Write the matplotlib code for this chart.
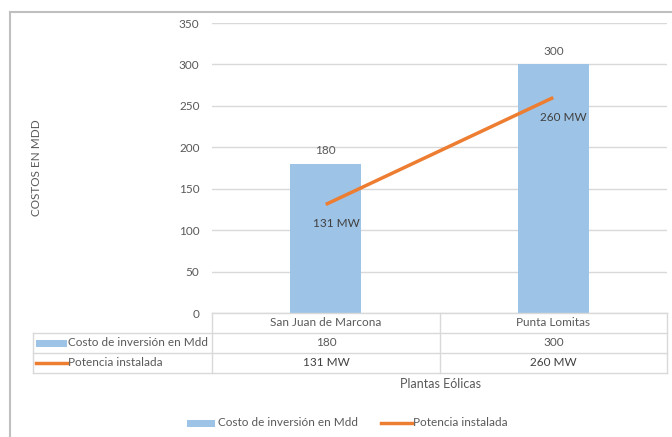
import matplotlib
matplotlib.use("Agg")
import matplotlib.pyplot as plt
from matplotlib.lines import Line2D
from matplotlib.patches import Rectangle

plantas = ["San Juan de Marcona", "Punta Lomitas"]
costo_mdd = [180, 300]
potencia_mw = [131, 260]
serie_costo = "Costo de inversión en Mdd"
serie_potencia = "Potencia instalada"
eje_y = "COSTOS EN MDD"
eje_x = "Plantas Eólicas"
y_ticks = [0, 50, 100, 150, 200, 250, 300, 350]

W, H = 672, 437
plt.rcParams['font.family'] = ['Lato', 'DejaVu Sans']
TXT = "#595959"
GRID = "#d9d9d9"
BLUE = "#9dc3e6"
ORANGE = "#ed7d31"

fig = plt.figure(figsize=(W / 100, H / 100), dpi=100)


def fx(x):
    return x / W


def fy(y):
    return 1 - y / H


# plot area in pixel terms
left, right, top, bottom = 212, 667, 23, 313
ax = fig.add_axes([fx(left), fy(bottom), (right - left) / W, (bottom - top) / H])
x = list(range(len(plantas)))
ax.bar(x, costo_mdd, width=0.31, color=BLUE, zorder=2)
ax.plot(x, potencia_mw, color=ORANGE, lw=2.5, zorder=3, solid_capstyle="butt")
ax.set_xlim(-0.5, len(plantas) - 0.5)
ax.set_ylim(0, 350)
ax.set_yticks(y_ticks)
ax.set_xticks([])
ax.grid(axis="y", color=GRID, lw=1, zorder=0)
for s in ax.spines.values():
    s.set_visible(False)
ax.tick_params(axis="y", length=0, pad=9, labelsize=8.5, labelcolor=TXT)

for xi, v in zip(x, costo_mdd):
    ax.annotate(f"{v}", (xi, v), xytext=(0, 9.5), textcoords="offset points",
                ha="center", va="center", fontsize=8.5, color=TXT)
for xi, v in zip(x, potencia_mw):
    ax.annotate(f"{v} MW", (xi, v), xytext=(7.5, -14), textcoords="offset points",
                ha="center", va="center", fontsize=8.5, color="#404040")

# data table under the plot area
rows = [313, 333, 353, 373]
cols = [33, 212, 440, 667]


def hline(y, x0, x1, c=GRID, lw=1):
    fig.add_artist(Line2D([fx(x0), fx(x1)], [fy(y), fy(y)], color=c, lw=lw))


def vline(x, y0, y1, c=GRID, lw=1):
    fig.add_artist(Line2D([fx(x), fx(x)], [fy(y0), fy(y1)], color=c, lw=lw))


hline(rows[0], cols[1], cols[3])
for r in rows[1:]:
    hline(r, cols[0], cols[3])
vline(cols[0], rows[1], rows[3])
for c in cols[1:]:
    vline(c, rows[0], rows[3])

centers = [(cols[i + 1] + cols[i + 2]) / 2 for i in range(len(plantas))]
for cx, name, c, p in zip(centers, plantas, costo_mdd, potencia_mw):
    fig.text(fx(cx), fy(323), name, ha="center", va="center", fontsize=8.5, color=TXT)
    fig.text(fx(cx), fy(343), f"{c}", ha="center", va="center", fontsize=8.5, color=TXT)
    fig.text(fx(cx), fy(363), f"{p} MW", ha="center", va="center", fontsize=8.5, color="#404040")

fig.add_artist(Rectangle((fx(36), fy(347)), (67 - 36) / W, 7 / H, color=BLUE, lw=0))
fig.text(fx(68), fy(343), serie_costo, ha="left", va="center", fontsize=8.5, color=TXT)
fig.add_artist(Line2D([fx(36), fx(67)], [fy(363), fy(363)], color=ORANGE, lw=2.5))
fig.text(fx(68), fy(363), serie_potencia, ha="left", va="center", fontsize=8.5, color=TXT)

# axis titles
fig.text(fx(36), fy(168), eje_y, rotation=90, ha="center", va="center", fontsize=8.5, color=TXT)
fig.text(fx(440), fy(384), eje_x, ha="center", va="center", fontsize=9, color=TXT)

# legend
fig.add_artist(Rectangle((fx(187), fy(427)), (215 - 187) / W, 7 / H, color=BLUE, lw=0))
fig.text(fx(218), fy(423), serie_costo, ha="left", va="center", fontsize=8.5, color=TXT)
fig.add_artist(Line2D([fx(381), fx(412)], [fy(423), fy(423)], color=ORANGE, lw=2.5))
fig.text(fx(413), fy(423), serie_potencia, ha="left", va="center", fontsize=8.5, color=TXT)

# chart frame
hline(12, 10, 672, c="#bfbfbf", lw=1.5)
vline(10, 12, 437, c="#bfbfbf", lw=1.5)

fig.savefig("out.png", dpi=100)
